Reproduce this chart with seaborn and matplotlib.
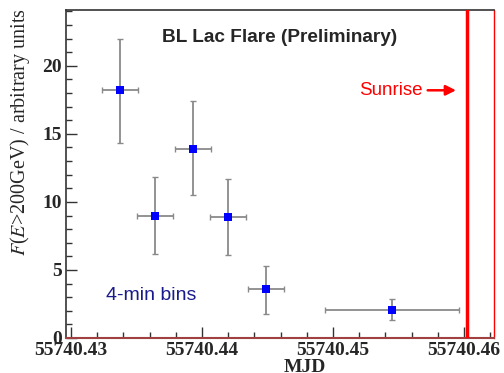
import matplotlib
matplotlib.use("Agg")
import matplotlib.pyplot as plt
import seaborn as sns
import pandas as pd
import numpy as np
from matplotlib.ticker import FixedLocator, MultipleLocator

# Data
mjd = [55740.43374, 55740.43640, 55740.43930, 55740.44200, 55740.44490, 55740.45450]
flux = [18.2, 9.0, 13.9, 8.9, 3.6, 2.05]
flux_err_lo = [3.9, 2.8, 3.4, 2.8, 1.8, 0.75]
flux_err_hi = [3.8, 2.8, 3.5, 2.8, 1.7, 0.85]
mjd_err = [0.00139, 0.00139, 0.00139, 0.00139, 0.00139, 0.0051]
sunrise_mjd = 55740.4602
xtick_vals = [55740.43, 55740.44, 55740.45, 55740.46]
xtick_labels = ["55740.43", "55740.44", "55740.45", "55740.46"]
ytick_vals = [0, 5, 10, 15, 20]

df = pd.DataFrame({"MJD": mjd, "flux": flux})

sns.set_style("ticks")
plt.rcParams["mathtext.fontset"] = "stix"

fig = plt.figure(figsize=(5.04, 3.73), dpi=100)
ax = fig.add_axes([66/504, 35/373, 428/504, 328/373])

ax.errorbar(mjd, flux, xerr=mjd_err, yerr=[flux_err_lo, flux_err_hi],
            fmt="none", ecolor="#8a8a8a", elinewidth=1.3, capsize=2, capthick=1, zorder=2)
sns.scatterplot(data=df, x="MJD", y="flux", marker="s", s=36, color="#0000ff",
                edgecolor="#0000ff", linewidth=0, ax=ax, zorder=3)

ax.axvline(sunrise_mjd, color="#ff0000", lw=2.5, zorder=4)

ax.set_xlim(55740.42962, 55740.46229)
ax.set_ylim(0, 24.1)

ax.xaxis.set_major_locator(FixedLocator(xtick_vals))
ax.set_xticklabels(xtick_labels)
ax.xaxis.set_minor_locator(MultipleLocator(0.002))
ax.yaxis.set_major_locator(FixedLocator(ytick_vals))
ax.yaxis.set_minor_locator(MultipleLocator(1))

ax.tick_params(axis="both", which="major", direction="in", length=8, width=1, color="#333333",
               top=False, right=False, pad=3)
ax.tick_params(axis="both", which="minor", direction="in", length=4, width=1, color="#333333",
               top=False, right=False)
for lab in ax.get_xticklabels() + ax.get_yticklabels():
    lab.set_fontfamily("Liberation Serif")
    lab.set_fontweight("bold")
    lab.set_fontsize(14)

for s in ["left", "top"]:
    ax.spines[s].set_color("#333333")
    ax.spines[s].set_linewidth(1.2)
ax.spines["bottom"].set_color("#a04040")
ax.spines["bottom"].set_linewidth(1.5)
ax.spines["right"].set_color("#ff0000")
ax.spines["right"].set_linewidth(1.0)

ax.set_xlabel("MJD", fontfamily="Liberation Serif", fontweight="bold", fontsize=14)
ax.xaxis.set_label_coords(0.558, -0.064)
ax.set_ylabel("$F$($E$>200GeV) / arbitrary units", fontfamily="Liberation Serif", fontsize=14.5)
ax.yaxis.set_label_coords(-0.079, 0.628)

ax.text(0.5, 0.915, "BL Lac Flare (Preliminary)", transform=ax.transAxes,
        ha="center", va="center", fontfamily="Liberation Sans", fontweight="bold", fontsize=13.7)
ax.text(0.20, 0.131, "4-min bins", transform=ax.transAxes,
        ha="center", va="center", fontfamily="Liberation Sans", fontsize=14, color="#1a1a8c")
ax.annotate("Sunrise", xy=(55740.45939, 18.2), xytext=(55740.45687, 18.2),
            ha="right", va="center", color="#ff0000", fontfamily="Liberation Sans", fontsize=13.5,
            arrowprops=dict(arrowstyle="-|>", color="#ff0000", lw=1.8, mutation_scale=15,
                            shrinkA=1, shrinkB=0))

fig.savefig("out.png", dpi=100)
